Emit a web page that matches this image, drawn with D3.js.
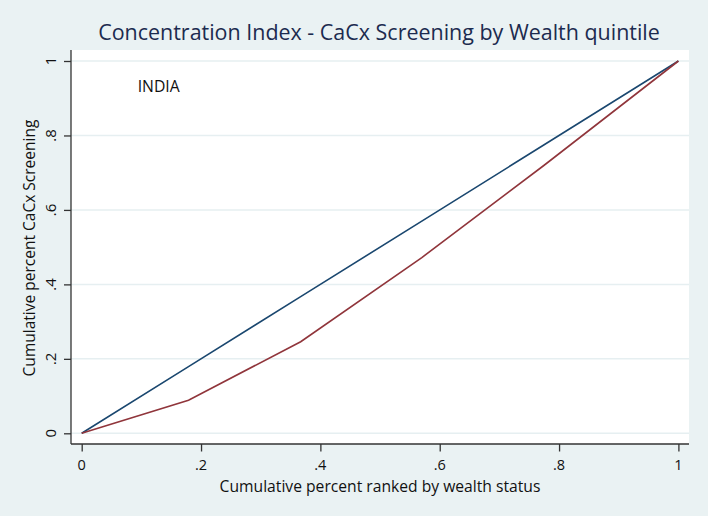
<!DOCTYPE html>
<html>
<head>
<meta charset="utf-8">
<script src="https://cdn.jsdelivr.net/npm/d3@7"></script>
<style>
  html, body { margin: 0; padding: 0; background: #eaf2f3; }
  svg { display: block; font-family: "Open Sans", sans-serif; }
</style>
</head>
<body>
<div id="chart"></div>
<script>
// cumulative share of population (ranked by wealth) vs cumulative share of screening
const cumPop = [0, 0.179, 0.367, 0.570, 0.775, 1];
const cumScreen = [0, 0.089, 0.246, 0.472, 0.720, 1];
const equality = [0, 0.179, 0.367, 0.570, 0.775, 1];
const ticks = [0, 0.2, 0.4, 0.6, 0.8, 1];
const tickLabels = ["0", ".2", ".4", ".6", ".8", "1"];

const W = 708, H = 516;

const svg = d3.select("#chart").append("svg")
  .attr("width", W)
  .attr("height", H);

svg.append("rect")
  .attr("width", W).attr("height", H)
  .attr("fill", "#eaf2f3");

// plot region
svg.append("rect")
  .attr("x", 71).attr("y", 50)
  .attr("width", 689 - 71).attr("height", 444 - 50)
  .attr("fill", "#fff");

let x = d3.scaleLinear().domain([0, 1]).range([81.7, 678.4]);
let y = d3.scaleLinear().domain([0, 1]).range([433.3, 61]);

// gridlines
svg.append("g")
  .selectAll("line")
  .data(ticks)
  .enter().append("line")
  .attr("x1", 71).attr("x2", 689)
  .attr("y1", d => y(d)).attr("y2", d => y(d))
  .attr("stroke", "#e6eff1")
  .attr("stroke-width", 1.5);

// axes
let xAxis = d3.axisBottom(x).tickValues(ticks).tickSize(7.5).tickPadding(0).tickFormat("");
let yAxis = d3.axisLeft(y).tickValues(ticks).tickSize(7).tickFormat("");

let gx = svg.append("g")
  .attr("transform", "translate(0,444)")
  .call(xAxis);
gx.select(".domain").attr("d", "M71,0H689");

let gy = svg.append("g")
  .attr("transform", "translate(71,0)")
  .call(yAxis);
gy.select(".domain").attr("d", "M0,50V444");

svg.selectAll(".domain, .tick line")
  .attr("stroke", "#333")
  .attr("stroke-width", 1.3);

// tick labels
svg.append("g")
  .selectAll("text")
  .data(ticks)
  .enter().append("text")
  .attr("x", d => x(d))
  .attr("y", 469.5)
  .attr("text-anchor", "middle")
  .attr("font-size", 14.5)
  .attr("fill", "#111")
  .text((d, i) => tickLabels[i]);

svg.append("g")
  .selectAll("text")
  .data(ticks)
  .enter().append("text")
  .attr("transform", d => "translate(55.5," + y(d) + ") rotate(-90)")
  .attr("text-anchor", "middle")
  .attr("font-size", 15)
  .attr("fill", "#111")
  .text((d, i) => tickLabels[i]);

// lines
let line = d3.line()
  .x((d, i) => x(cumPop[i]))
  .y(d => y(d));

svg.append("path")
  .attr("d", line(equality))
  .attr("fill", "none")
  .attr("stroke", "#1a476f")
  .attr("stroke-width", 1.6);

svg.append("path")
  .attr("d", line(cumScreen))
  .attr("fill", "none")
  .attr("stroke", "#90353b")
  .attr("stroke-width", 1.6);

// fit a text element to a target width
let fit = (sel, target) => {
  let base = +sel.attr("font-size");
  let w = sel.node().getComputedTextLength();
  sel.attr("font-size", base * target / w);
};

let title = svg.append("text")
  .attr("x", 379)
  .attr("y", 40)
  .attr("text-anchor", "middle")
  .attr("font-size", 22)
  .attr("fill", "#1c2b4f")
  .text("Concentration Index - CaCx Screening by Wealth quintile");
fit(title, 562);

let xTitle = svg.append("text")
  .attr("x", 380)
  .attr("y", 491.5)
  .attr("text-anchor", "middle")
  .attr("font-size", 15)
  .attr("fill", "#111")
  .text("Cumulative percent ranked by wealth status");
fit(xTitle, 321);

let yTitle = svg.append("text")
  .attr("transform", "translate(35,248) rotate(-90)")
  .attr("text-anchor", "middle")
  .attr("font-size", 15)
  .attr("fill", "#111")
  .text("Cumulative percent CaCx Screening");
fit(yTitle, 257);

let india = svg.append("text")
  .attr("x", 137.7)
  .attr("y", 91.7)
  .attr("font-size", 15)
  .attr("fill", "#111")
  .text("INDIA");
fit(india, 42);
</script>
</body>
</html>
